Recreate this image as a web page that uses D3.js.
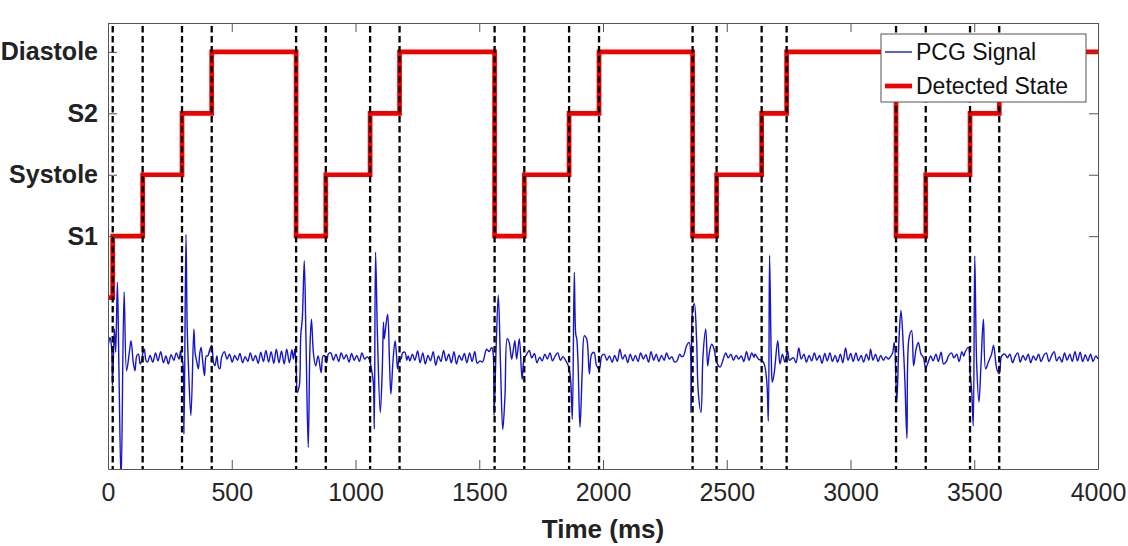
<html>
<script src="https://d3js.org/d3.v7.min.js"></script>
<style>
    body { margin: 0; background: #fff; }
    text { font-family: "Liberation Sans", Arial, sans-serif; }
</style>

<body>
    <svg id="visual" width="1128" height="546"></svg>
    <script>
        // state labels on the y axis (value 1..4)
        const stateLabels = ["S1", "Systole", "S2", "Diastole"];
        const stateTicks = [1, 2, 3, 4];
        const xTicks = [0, 500, 1000, 1500, 2000, 2500, 3000, 3500, 4000];

        // detected state: change times (ms) and the state held from each time on
        const stateTimes = [0, 19, 140, 299, 419, 760, 880, 1059, 1178, 1562, 1682, 1863, 1984,
            2362, 2459, 2641, 2742, 3184, 3304, 3483, 3601, 4000];
        const stateValues = [0, 1, 2, 3, 4, 1, 2, 3, 4, 1, 2, 3, 4, 1, 2, 3, 4, 1, 2, 3, 4, 4];

        // PCG signal: [time ms, amplitude]
        const pcgSamples = [
            [0, 0.2], [8, 0.35], [15, 0.15], [18, -0.43], [26, 0.49], [31, 0.11], [38, 1.25], [44, -0.11], [53, -2.0],
            [65, 1.09], [75, -0.19], [86, 0.1], [93, 0.30], [102, -0.05], [109, -0.19], [116, 0.05], [123, 0.08],
            [130, -0.08], [136, -0.03], [141, 0.10], [147, 0.16], [153, -0.02], [160, -0.05],
            [170, 0.06], [181, -0.05], [192, 0.10], [202, -0.03], [213, 0.12], [224, -0.06], [234, 0.05], [244, -0.08],
            [255, 0.07], [266, -0.02], [276, 0.10], [287, 0.0], [293, 0.13], [297, 0.0],
            [302, -0.05], [307, -1.22], [315, 2.03], [320, 0.5], [325, -0.11], [335, -0.92], [347, 0.49], [352, 0.1],
            [358, -0.03], [365, -0.16], [371, 0.1], [376, 0.19], [383, -0.05], [390, -0.27], [397, 0.05], [403, 0.05],
            [411, 0.15], [419, 0.22], [426, -0.05], [432, -0.11], [440, 0.05], [446, -0.13], [452, -0.16], [459, 0.03],
            [470, 0.12], [481, 0.0], [491, 0.08], [502, -0.05], [512, 0.06], [523, -0.02], [533, 0.09], [544, -0.06],
            [554, 0.04], [565, -0.04], [575, 0.10], [586, -0.03], [596, 0.06], [607, -0.07], [617, 0.11], [628, -0.04],
            [638, 0.14], [649, -0.05], [659, 0.12], [670, -0.07], [680, 0.16], [691, -0.06], [701, 0.13], [712, -0.08],
            [722, 0.16], [733, -0.06], [743, 0.15], [749, 0.0],
            [755, 0.16], [760, -0.1], [765, -0.54], [773, -0.43], [779, 0.4], [785, 0.65], [793, 1.6], [800, 0.3],
            [809, -1.44], [816, 0.2], [822, 0.65], [830, 0.1], [839, -0.11], [849, 0.05], [861, -0.22], [869, 0.05],
            [877, 0.05], [884, -0.06], [890, 0.08],
            [900, 0.10], [911, -0.02], [921, 0.08], [932, -0.04], [942, 0.10], [953, 0.0], [963, 0.07], [974, -0.05],
            [984, 0.09], [995, -0.02], [1005, 0.06], [1016, -0.04], [1026, 0.10], [1037, 0.0], [1047, 0.04],
            [1055, 0.0], [1059, -0.05],
            [1066, -0.2], [1072, -0.38], [1076, -1.14], [1081, 1.74], [1089, 0.33], [1100, -0.87], [1108, -0.2],
            [1113, 0.6], [1116, 0.33], [1123, 0.55], [1130, 0.73], [1137, 0.0], [1143, -0.57], [1152, 0.0], [1160, 0.3],
            [1166, 0.05], [1170, -0.16], [1177, 0.0], [1184, 0.0], [1190, 0.1], [1200, 0.11], [1207, -0.02],
            [1213, 0.05], [1220, -0.03],
            [1230, 0.08], [1240, -0.02], [1251, 0.13], [1261, -0.06], [1272, 0.10], [1282, -0.08], [1293, 0.06],
            [1303, -0.03], [1314, 0.12], [1324, -0.10], [1335, 0.05], [1345, -0.04], [1356, 0.14], [1366, -0.03],
            [1377, 0.08], [1387, -0.06], [1398, 0.12], [1408, -0.08], [1419, 0.06], [1429, -0.02], [1440, 0.09],
            [1450, -0.06], [1461, 0.10], [1471, -0.04], [1482, 0.12], [1492, -0.07], [1503, -0.03], [1513, -0.05],
            [1530, 0.16], [1540, 0.12], [1550, 0.19], [1556, 0.1], [1560, -0.92], [1568, 0.16], [1577, 1.04],
            [1586, -0.11], [1595, -1.15], [1604, -0.60], [1613, 0.33], [1621, 0.27], [1631, 0.0], [1638, 0.16],
            [1644, 0.30], [1651, 0.0], [1662, 0.33], [1673, -0.33], [1681, 0.0], [1692, 0.08],
            [1702, 0.14], [1712, 0.02], [1723, 0.09], [1733, -0.06], [1744, 0.03], [1754, -0.03], [1765, 0.08],
            [1775, 0.0], [1786, 0.10], [1796, -0.03], [1807, 0.05], [1817, 0.10], [1828, -0.02], [1838, 0.04],
            [1846, 0.0], [1860, -0.11], [1869, -0.33], [1876, -0.98], [1884, 1.41], [1890, 0.4], [1894, 0.33],
            [1899, -0.05], [1907, -1.11], [1916, -0.22], [1925, 0.38], [1934, 0.33], [1945, -0.24], [1954, 0.08],
            [1964, 0.11], [1974, -0.11], [1985, -0.16], [1995, 0.05],
            [2005, 0.08], [2016, -0.02], [2026, 0.05], [2037, -0.05], [2047, 0.06], [2058, -0.04], [2068, 0.16],
            [2079, 0.0], [2089, 0.07], [2100, -0.06], [2110, 0.08], [2121, -0.03], [2131, 0.06], [2142, -0.04],
            [2152, 0.10], [2163, 0.0], [2173, 0.07], [2184, -0.05], [2194, 0.12], [2205, -0.02], [2215, 0.08],
            [2226, -0.04], [2236, 0.06], [2247, -0.02], [2257, 0.10], [2268, 0.0], [2278, 0.04], [2289, -0.05],
            [2299, -0.03], [2310, 0.08], [2318, 0.04],
            [2325, 0.05], [2338, 0.22], [2348, 0.27], [2356, -0.87], [2362, 0.81], [2369, 0.90], [2378, 0.33],
            [2385, -0.54], [2396, -0.87], [2404, 0.05], [2415, 0.49], [2423, -0.11], [2430, 0.11], [2439, 0.24],
            [2449, 0.16], [2459, -0.05], [2473, -0.13], [2486, 0.0],
            [2496, 0.10], [2506, 0.02], [2517, 0.08], [2527, -0.02], [2538, 0.06], [2548, 0.0], [2559, 0.05],
            [2569, -0.04], [2580, 0.12], [2590, -0.02], [2601, 0.10], [2610, 0.03],
            [2614, 0.08], [2628, 0.0], [2648, -0.05], [2661, -0.33], [2668, -1.01], [2673, 1.69], [2680, 0.0],
            [2684, -0.38], [2692, -0.22], [2706, 0.30], [2715, -0.08], [2725, 0.08], [2735, -0.05], [2746, 0.13],
            [2753, -0.02], [2760, 0.0],
            [2770, 0.02], [2780, -0.06], [2791, 0.18], [2801, 0.0], [2812, 0.08], [2822, -0.05], [2833, 0.06],
            [2843, -0.03], [2854, 0.10], [2864, -0.02], [2875, 0.06], [2885, -0.07], [2896, 0.09], [2906, -0.03],
            [2917, 0.10], [2927, -0.04], [2938, 0.06], [2948, -0.05], [2959, 0.08], [2969, -0.06], [2980, 0.18],
            [2990, -0.02], [3001, 0.09], [3011, -0.04], [3022, 0.10], [3032, -0.03], [3043, 0.06], [3053, -0.05],
            [3064, 0.08], [3074, -0.02], [3081, 0.16], [3091, -0.02], [3101, 0.08], [3112, -0.04], [3122, 0.06],
            [3133, -0.02], [3143, 0.04], [3153, 0.0],
            [3160, 0.03], [3170, 0.1], [3177, 0.27], [3187, -0.70], [3196, 0.33], [3204, 0.79], [3214, 0.16],
            [3220, -0.38], [3228, -1.29], [3236, 0.33], [3247, 0.46], [3255, -0.11], [3265, 0.16], [3274, 0.27],
            [3285, 0.08], [3294, 0.03], [3304, -0.14], [3314, -0.05],
            [3324, 0.05], [3334, -0.03], [3345, 0.08], [3355, -0.04], [3366, 0.11], [3376, -0.08], [3387, -0.04],
            [3397, 0.06], [3408, 0.10], [3418, 0.02], [3429, 0.08], [3439, -0.04], [3450, 0.12], [3458, 0.05],
            [3463, 0.11], [3476, 0.19], [3483, -0.22], [3490, -0.54], [3496, -1.09], [3502, 1.68], [3510, -0.11],
            [3519, -0.70], [3527, -0.11], [3537, 0.65], [3546, -0.16], [3557, -0.05], [3570, 0.08], [3578, 0.22],
            [3591, -0.16], [3601, -0.24], [3611, 0.05], [3624, 0.08],
            [3634, 0.02], [3644, 0.08], [3655, -0.06], [3665, 0.04], [3676, 0.10], [3686, -0.05], [3697, 0.06],
            [3707, -0.02], [3718, 0.08], [3728, -0.06], [3739, 0.05], [3749, -0.02], [3760, 0.08], [3770, -0.04],
            [3781, 0.06], [3791, 0.10], [3802, -0.04], [3812, 0.05], [3823, 0.12], [3833, -0.03], [3844, 0.04],
            [3854, -0.05], [3865, 0.10], [3875, -0.02], [3886, 0.08], [3896, -0.04], [3907, 0.12], [3917, -0.03],
            [3928, 0.11], [3938, -0.04], [3949, 0.07], [3959, -0.03], [3970, 0.08], [3980, -0.04], [3991, 0.05],
            [4000, 0.0]
        ];

        const signalOffset = -1; // signal drawn around state value -1

        var svg = d3.select("svg");
        var plotLeft = 108, plotRight = 1098, plotTop = 23, plotBottom = 469;

        var x = d3.scaleLinear().domain([0, 4000]).range([plotLeft, plotRight]);
        var y = d3.scaleLinear().domain([-2.79, 4.47]).range([plotBottom, plotTop]);

        svg.append("defs").append("clipPath").attr("id", "plotclip")
            .append("rect")
            .attr("x", plotLeft).attr("y", plotTop)
            .attr("width", plotRight - plotLeft).attr("height", plotBottom - plotTop);

        var plot = svg.append("g").attr("clip-path", "url(#plotclip)");

        // PCG signal
        var sigLine = d3.line()
            .x(function (d) { return x(d[0]); })
            .y(function (d) { return y(d[1] + signalOffset); })
            .curve(d3.curveCatmullRom.alpha(0.5));

        plot.append("path")
            .datum(pcgSamples)
            .attr("d", sigLine)
            .attr("fill", "none")
            .attr("stroke", "#1515cc")
            .attr("stroke-width", 1.4);

        // detected state (step line)
        var stateLine = d3.line()
            .x(function (d, i) { return x(stateTimes[i]); })
            .y(function (d) { return y(d); })
            .curve(d3.curveStepAfter);

        plot.append("path")
            .datum(stateValues)
            .attr("d", stateLine)
            .attr("fill", "none")
            .attr("stroke", "#f00000")
            .attr("stroke-width", 4.7);

        // boundaries between states
        plot.selectAll(".boundary")
            .data(stateTimes.slice(1, -1))
            .enter()
            .append("line")
            .attr("class", "boundary")
            .attr("x1", function (d) { return x(d); })
            .attr("x2", function (d) { return x(d); })
            .attr("y1", plotTop)
            .attr("y2", plotBottom)
            .attr("stroke", "#000")
            .attr("stroke-width", 2.3)
            .attr("stroke-dasharray", "6.5,3.5")
            .attr("stroke-dashoffset", -3);

        // axes (MATLAB style box with inward ticks)
        var axisColor = "#555";
        var xAxisB = svg.append("g")
            .attr("transform", "translate(0," + plotBottom + ")")
            .call(d3.axisBottom(x).tickValues(xTicks).tickSizeInner(-9).tickSizeOuter(0).tickPadding(14)
                .tickFormat(d3.format("d")));
        var xAxisT = svg.append("g")
            .attr("transform", "translate(0," + plotTop + ")")
            .call(d3.axisTop(x).tickValues(xTicks).tickSizeInner(-9).tickSizeOuter(0).tickFormat(""));
        var yAxisL = svg.append("g")
            .attr("transform", "translate(" + plotLeft + ",0)")
            .call(d3.axisLeft(y).tickValues(stateTicks).tickSizeInner(-9).tickSizeOuter(0).tickPadding(10)
                .tickFormat(function (d) { return stateLabels[d - 1]; }));
        var yAxisR = svg.append("g")
            .attr("transform", "translate(" + plotRight + ",0)")
            .call(d3.axisRight(y).tickValues(stateTicks).tickSizeInner(-9).tickSizeOuter(0).tickFormat(""));

        [xAxisB, xAxisT, yAxisL, yAxisR].forEach(function (a) {
            a.select(".domain").attr("stroke", axisColor);
            a.selectAll(".tick line").attr("stroke", axisColor);
        });

        xAxisB.selectAll(".tick text")
            .attr("fill", "#262626")
            .style("font-size", "25px");
        yAxisL.selectAll(".tick text")
            .attr("fill", "#222")
            .style("font-size", "25px")
            .style("font-weight", "bold");

        svg.append("text")
            .attr("x", (plotLeft + plotRight) / 2)
            .attr("y", 538)
            .attr("text-anchor", "middle")
            .attr("fill", "#222")
            .style("font-size", "26px")
            .style("font-weight", "bold")
            .text("Time (ms)");

        // legend
        var legend = svg.append("g").attr("transform", "translate(881,34)");
        legend.append("rect")
            .attr("width", 205).attr("height", 68)
            .attr("fill", "#fff")
            .attr("stroke", "#555")
            .attr("stroke-width", 1);
        var entries = [
            { label: "PCG Signal", color: "#1515cc", width: 1.4 },
            { label: "Detected State", color: "#f00000", width: 4.7 }
        ];
        entries.forEach(function (e, i) {
            var yy = 18 + i * 34;
            legend.append("line")
                .attr("x1", 4).attr("x2", 31)
                .attr("y1", yy).attr("y2", yy)
                .attr("stroke", e.color)
                .attr("stroke-width", e.width);
            legend.append("text")
                .attr("x", 35).attr("y", yy)
                .attr("dy", "0.36em")
                .attr("fill", "#111")
                .style("font-size", "23px")
                .text(e.label);
        });
    </script>
</body>

</html>
